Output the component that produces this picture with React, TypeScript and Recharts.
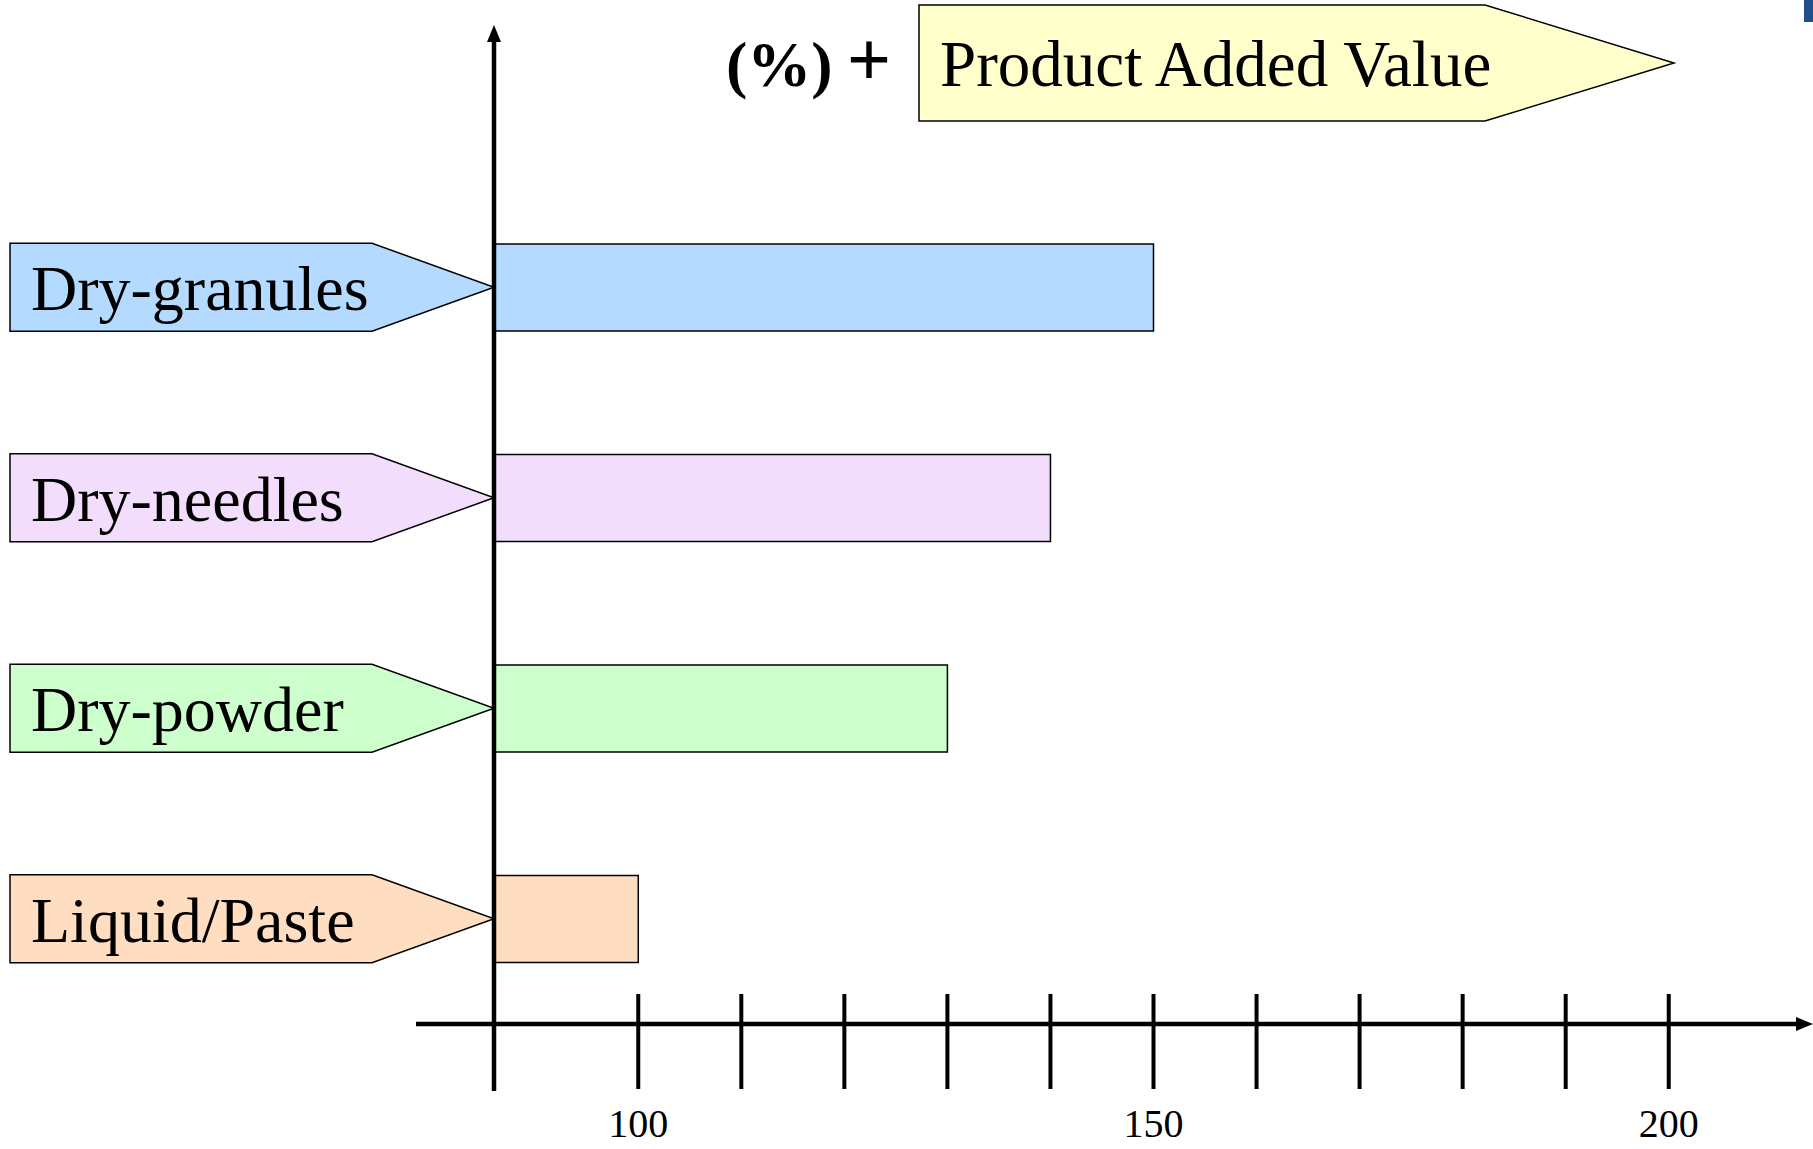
import { BarChart, Bar, XAxis, YAxis, Cell } from "recharts";

const CATEGORIES = ["Dry-granules", "Dry-needles", "Dry-powder", "Liquid/Paste"];
const VALUES = [150, 140, 130, 100];
const COLORS = ["#b4dbff", "#f3ddfd", "#ccffcc", "#ffddc0"];
const X_TICKS = [100, 110, 120, 130, 140, 150, 160, 170, 180, 190, 200];
const LABELED = [100, 150, 200];
const TITLE = "Product Added Value";

const W = 1813;
const H = 1149;
const AXIS_X = 494; // y-axis position (plot left)
const PLOT_TOP = 182;
const X_AXIS_H = 125;
const AXIS_Y = H - X_AXIS_H;
const FONT = "'Liberation Serif', 'Times New Roman', serif";

const data = CATEGORIES.map((name, i) => ({ name, value: VALUES[i] }));

const LabelTick = ({ y, payload }: any) => {
  const i = CATEGORIES.indexOf(payload.value);
  const top = y - 44;
  const bot = y + 44;
  return (
    <g>
      <path
        d={`M10,${top} L372,${top} L${AXIS_X},${y} L372,${bot} L10,${bot} Z`}
        fill={COLORS[i]}
        stroke="#000"
        strokeWidth={1.5}
      />
      <text x={31} y={y + 23} fontFamily={FONT} fontSize={64} fill="#000">
        {payload.value}
      </text>
    </g>
  );
};

const XTick = ({ x, y, payload }: any) => {
  const v = payload.value;
  return (
    <g>
      <line x1={x} x2={x} y1={y - 30} y2={y + 65} stroke="#000" strokeWidth={4} />
      {LABELED.includes(v) && (
        <text x={x} y={y + 113} textAnchor="middle" fontFamily={FONT} fontSize={40} fill="#000">
          {v}
        </text>
      )}
    </g>
  );
};

export default function App() {
  return (
    <div style={{ position: "absolute", left: 0, top: 0, width: W, height: H, background: "#fff" }}>
      <BarChart
        width={W}
        height={H}
        data={data}
        layout="vertical"
        margin={{ top: PLOT_TOP, right: 0, bottom: 0, left: 0 }}
        barCategoryGap={0}
      >
        <XAxis
          type="number"
          domain={[86, 214]}
          allowDataOverflow
          ticks={X_TICKS}
          interval={0}
          height={X_AXIS_H}
          axisLine={false}
          tickLine={false}
          tickSize={0}
          tickMargin={0}
          tick={<XTick />}
        />
        <YAxis
          type="category"
          dataKey="name"
          width={AXIS_X}
          interval={0}
          axisLine={false}
          tickLine={false}
          tick={<LabelTick />}
        />
        <Bar dataKey="value" barSize={87} stroke="#000" strokeWidth={1.5} isAnimationActive={false}>
          {data.map((d, i) => (
            <Cell key={d.name} fill={COLORS[i]} />
          ))}
        </Bar>
      </BarChart>

      <svg
        width={W}
        height={H}
        style={{ position: "absolute", left: 0, top: 0, pointerEvents: "none" }}
      >
        {/* axes with arrowheads */}
        <line x1={AXIS_X} x2={AXIS_X} y1={38} y2={1091} stroke="#000" strokeWidth={4.5} />
        <path d={`M${AXIS_X},25 L${AXIS_X - 7},42 L${AXIS_X + 7},42 Z`} fill="#000" />
        <line x1={416} x2={1800} y1={AXIS_Y} y2={AXIS_Y} stroke="#000" strokeWidth={4.5} />
        <path d={`M1813,${AXIS_Y} L1796,${AXIS_Y - 7} L1796,${AXIS_Y + 7} Z`} fill="#000" />

        {/* value title */}
        <text x={726} y={86} fontFamily={FONT} fontSize={64} fill="#000">
          <tspan fontWeight="bold">(%)</tspan>
          <tspan dx={14} fontSize={78} fontWeight="bold">+</tspan>
        </text>
        <path d="M919,5 L1485,5 L1674,63 L1485,121 L919,121 Z" fill="#ffffcc" stroke="#000" strokeWidth={1.5} />
        <text x={940} y={86} fontFamily={FONT} fontSize={65} fill="#000">
          {TITLE}
        </text>

        <rect x={1804} y={0} width={9} height={22} fill="#1f4e89" />
      </svg>
    </div>
  );
}
